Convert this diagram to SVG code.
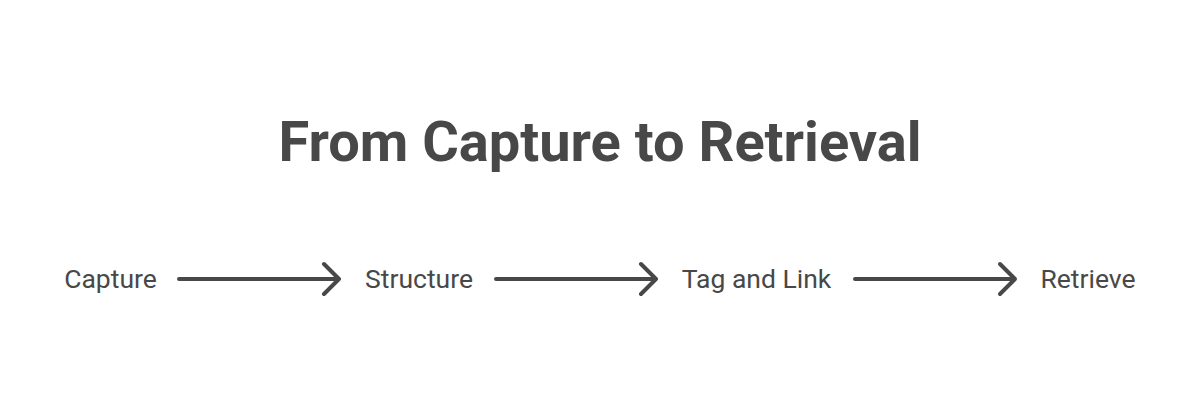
<svg xmlns="http://www.w3.org/2000/svg" width="1200" height="405" viewBox="0 0 1200 405">
<style>
.title{font-family:Roboto,"Liberation Sans",sans-serif;font-weight:700;font-size:56px;fill:#484848}
.lbl{font-family:Roboto,"Liberation Sans",sans-serif;font-size:26.5px;fill:#484848}
.con{stroke:#484848;stroke-width:4;fill:none;stroke-linecap:round;stroke-linejoin:round}
</style>
<rect width="1200" height="405" fill="#ffffff"/>
<text class="title" x="600" y="161" text-anchor="middle">From Capture to Retrieval</text>
<g id="node-capture"><text class="lbl" x="110.5" y="288" text-anchor="middle">Capture</text></g>
<g id="node-structure"><text class="lbl" x="419" y="288" text-anchor="middle">Structure</text></g>
<g id="node-tag"><text class="lbl" x="756.5" y="288" text-anchor="middle">Tag and Link</text></g>
<g id="node-retrieve"><text class="lbl" x="1088" y="288" text-anchor="middle">Retrieve</text></g>
<g id="connectors">
<path class="con" d="M179 279H339M324 264L339 279L324 294"/>
<path class="con" d="M496 279H656M641 264L656 279L641 294"/>
<path class="con" d="M855 279H1015M1000 264L1015 279L1000 294"/>
</g>
</svg>
